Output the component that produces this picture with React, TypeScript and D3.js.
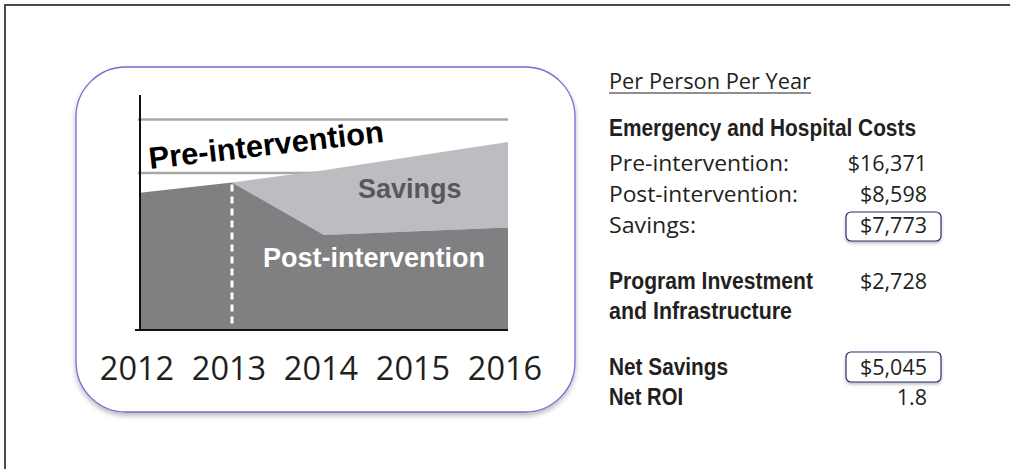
import React from "react";
import * as d3 from "d3";

const years = [2012, 2013, 2014, 2015, 2016];
const postIntervention = [14.6, 15.7, 10.1, 10.5, 10.9];
const preIntervention = [14.6, 15.7, 17.0, 18.5, 20.0];
const gridValues = [16.7, 22.4];
const interventionYear = 2013;

const costLabels = ["Pre-intervention:", "Post-intervention:", "Savings:"];
const costValues = ["$16,371", "$8,598", "$7,773"];
const investmentLabel = ["Program Investment", "and Infrastructure"];
const investmentValue = "$2,728";
const netLabels = ["Net Savings", "Net ROI"];
const netValues = ["$5,045", "1.8"];

const W = 1010;
const H = 469;

export default function App() {
  const x = d3.scaleLinear().domain([2012, 2016]).range([140, 508]);
  const y = d3.scaleLinear().domain([0, 25]).range([330, 95]);

  const rows = years.map((yr, i) => ({ yr, post: postIntervention[i], pre: preIntervention[i] }));
  const postArea = d3
    .area<any>()
    .x((d) => x(d.yr))
    .y0(y(0))
    .y1((d) => y(d.post))(rows) as string;
  const savingsArea = d3
    .area<any>()
    .x((d) => x(d.yr))
    .y0((d) => y(d.post))
    .y1((d) => y(d.pre))(rows.filter((r) => r.yr >= interventionYear)) as string;

  const regular = "'Open Sans', 'Liberation Sans', sans-serif";
  const boldHelv = "'Liberation Sans', Arial, sans-serif";
  const textCol = "#231f20";
  const valRight = 927;
  const left = 609;
  const costY = [171, 202, 233];
  const costW = [180, 189, 87];
  const netW = [119, 74];

  const boldCond = (label: string, yy: number, w: number) => (
    <text
      key={label}
      x={left}
      y={yy}
      fontFamily={boldHelv}
      fontWeight="bold"
      fontSize={23}
      fill={textCol}
      textLength={w}
      lengthAdjust="spacingAndGlyphs"
    >
      {label}
    </text>
  );

  return (
    <svg
      width={W}
      height={H}
      style={{ position: "absolute", left: 0, top: 0, background: "#fff" }}
    >
      <defs>
        <filter id="shadow" x="-10%" y="-10%" width="120%" height="130%">
          <feDropShadow dx="0" dy="3" stdDeviation="2.5" floodColor="#000" floodOpacity="0.28" />
        </filter>
        <filter id="shadowSmall" x="-10%" y="-20%" width="120%" height="160%">
          <feDropShadow dx="0" dy="2" stdDeviation="1.5" floodColor="#000" floodOpacity="0.25" />
        </filter>
      </defs>

      {/* outer frame */}
      <line x1={4} y1={5} x2={W} y2={5} stroke="#4a4a4a" strokeWidth={2} />
      <line x1={5} y1={4} x2={5} y2={H} stroke="#4a4a4a" strokeWidth={2} />

      {/* rounded box */}
      <rect
        x={76}
        y={67}
        width={499}
        height={345}
        rx={50}
        ry={50}
        fill="#fff"
        stroke="#6e6ed8"
        strokeWidth={1.3}
        filter="url(#shadow)"
      />

      {/* gridlines */}
      {gridValues.map((g, i) => (
        <line key={i} x1={138} x2={x(2016)} y1={y(g)} y2={y(g)} stroke="#a8a8a8" strokeWidth={2.5} />
      ))}

      {/* areas */}
      <path d={savingsArea} fill="#bcbdc0" />
      <path d={postArea} fill="#808083" />

      {/* dashed intervention line */}
      <line
        x1={x(interventionYear)}
        x2={x(interventionYear)}
        y1={y(postIntervention[1]) + 2}
        y2={y(0) - 2}
        stroke="#fff"
        strokeWidth={3}
        strokeDasharray="7,5"
      />

      {/* axes */}
      <line x1={140} x2={140} y1={95} y2={331} stroke="#111" strokeWidth={2} />
      <line x1={135} x2={x(2016)} y1={330} y2={330} stroke="#111" strokeWidth={2} />

      {/* year labels */}
      {years.map((yr) => (
        <text
          key={yr}
          x={x(yr) - 3}
          y={380}
          textAnchor="middle"
          fontFamily={regular}
          fontSize={32.5}
          fill={textCol}
        >
          {yr}
        </text>
      ))}

      {/* area labels */}
      <text
        x={0}
        y={0}
        transform={`translate(150,169) rotate(-6.6)`}
        fontFamily={boldHelv}
        fontWeight="bold"
        fontSize={30.8}
        fill="#000"
      >
        Pre-intervention
      </text>
      <text x={358} y={198} fontFamily={boldHelv} fontWeight="bold" fontSize={27} fill="#58585a">
        Savings
      </text>
      <text x={263} y={267} fontFamily={boldHelv} fontWeight="bold" fontSize={27} fill="#fff">
        Post-intervention
      </text>

      {/* right panel */}
      <text
        x={left}
        y={89}
        fontFamily={regular}
        fontSize={21.5}
        fill={textCol}
        textLength={202}
        lengthAdjust="spacingAndGlyphs"
      >
        Per Person Per Year
      </text>
      <line x1={left} x2={811} y1={93} y2={93} stroke={textCol} strokeWidth={1.2} />

      {boldCond("Emergency and Hospital Costs", 136, 307)}

      {costLabels.map((l, i) => (
        <text
          key={l}
          x={left}
          y={costY[i]}
          fontFamily={regular}
          fontSize={21.5}
          fill={textCol}
          textLength={costW[i]}
          lengthAdjust="spacingAndGlyphs"
        >
          {l}
        </text>
      ))}
      {/* savings box */}
      <rect
        x={846}
        y={212}
        width={95}
        height={29}
        rx={5}
        ry={5}
        fill="#fff"
        stroke="#2d2d73"
        strokeWidth={1.2}
        filter="url(#shadowSmall)"
      />
      {costValues.map((v, i) => (
        <text
          key={v}
          x={valRight}
          y={costY[i]}
          textAnchor="end"
          fontFamily={regular}
          fontSize={21.5}
          fill={textCol}
        >
          {v}
        </text>
      ))}

      {boldCond(investmentLabel[0], 289, 204)}
      {boldCond(investmentLabel[1], 319, 183)}
      <text x={valRight} y={289} textAnchor="end" fontFamily={regular} fontSize={21.5} fill={textCol}>
        {investmentValue}
      </text>

      <rect
        x={846}
        y={352}
        width={95}
        height={30}
        rx={5}
        ry={5}
        fill="#fff"
        stroke="#2d2d73"
        strokeWidth={1.2}
        filter="url(#shadowSmall)"
      />
      {netLabels.map((l, i) => boldCond(l, 375 + i * 30, netW[i]))}
      {netValues.map((v, i) => (
        <text
          key={v}
          x={valRight}
          y={375 + i * 30}
          textAnchor="end"
          fontFamily={regular}
          fontSize={21.5}
          fill={textCol}
        >
          {v}
        </text>
      ))}
    </svg>
  );
}
